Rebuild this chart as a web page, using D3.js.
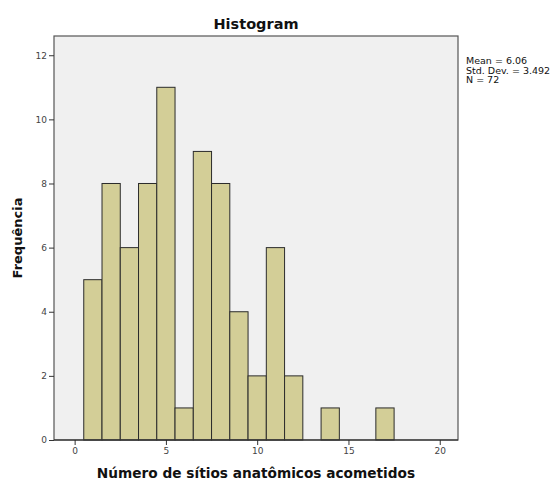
<!DOCTYPE html>
<html>
<head>
<meta charset="utf-8">
<script src="https://cdn.jsdelivr.net/npm/d3@7"></script>
<style>
  body { margin: 0; background: #fff; }
  text { font-family: "DejaVu Sans", sans-serif; }
</style>
</head>
<body>
<svg id="chart"></svg>
<script>
// bin centres (integer values) and their counts
const binCenters = [1, 2, 3, 4, 5, 6, 7, 8, 9, 10, 11, 12, 13, 14, 15, 16, 17];
const binCounts  = [5, 8, 6, 8, 11, 1, 9, 8, 4, 2, 6, 2, 0, 1, 0, 0, 1];
const xTicks = [0, 5, 10, 15, 20];
const yTicks = [0, 2, 4, 6, 8, 10, 12];
const statsLines = ["Mean = 6.06", "Std. Dev. = 3.492", "N = 72"];

const width = 560, height = 483;
const margin = { left: 54, right: 102, top: 36, bottom: 43 };

const svg = d3.select("#chart").attr("width", width).attr("height", height);

const x = d3.scaleLinear().domain([-1.13, 21.0]).range([margin.left, width - margin.right]);
const y = d3.scaleLinear().domain([0, 12.6]).range([height - margin.bottom, margin.top]);

// plot background
svg.append("rect")
    .attr("x", margin.left)
    .attr("y", margin.top)
    .attr("width", width - margin.left - margin.right)
    .attr("height", height - margin.top - margin.bottom)
    .attr("fill", "#f0f0f0");

// bars
svg.append("g").selectAll("rect")
    .data(binCenters.map((c, i) => ({ c: c, n: binCounts[i] })).filter(d => d.n > 0))
    .enter().append("rect")
    .attr("x", d => x(d.c - 0.5))
    .attr("y", d => y(d.n))
    .attr("width", d => x(d.c + 0.5) - x(d.c - 0.5))
    .attr("height", d => y(0) - y(d.n))
    .attr("fill", "#d3ce97")
    .attr("stroke", "#2b2b2b")
    .attr("stroke-width", 1);

// frame
svg.append("rect")
    .attr("x", margin.left)
    .attr("y", margin.top)
    .attr("width", width - margin.left - margin.right)
    .attr("height", height - margin.top - margin.bottom)
    .attr("fill", "none")
    .attr("stroke", "#555")
    .attr("stroke-width", 1.2);

// axes
const xAxis = svg.append("g")
    .attr("transform", "translate(0," + y(0) + ")")
    .call(d3.axisBottom(x).tickValues(xTicks).tickSize(5).tickPadding(3));
const yAxis = svg.append("g")
    .attr("transform", "translate(" + margin.left + ",0)")
    .call(d3.axisLeft(y).tickValues(yTicks).tickSize(5).tickPadding(2));

[xAxis, yAxis].forEach(a => {
    a.select(".domain").remove();
    a.selectAll("line").attr("stroke", "#333");
    a.selectAll("text").attr("fill", "#444").style("font-size", "9px");
});
svg.append("line")
    .attr("x1", margin.left).attr("x2", width - margin.right)
    .attr("y1", y(0)).attr("y2", y(0))
    .attr("stroke", "#222").attr("stroke-width", 1.2);

// title
svg.append("text")
    .attr("x", (margin.left + width - margin.right) / 2)
    .attr("y", 29)
    .attr("text-anchor", "middle")
    .style("font-size", "14.5px")
    .style("font-weight", "bold")
    .attr("fill", "#111")
    .text("Histogram");

// axis titles
svg.append("text")
    .attr("x", (margin.left + width - margin.right) / 2)
    .attr("y", 478)
    .attr("text-anchor", "middle")
    .style("font-size", "13.7px")
    .style("font-weight", "bold")
    .attr("fill", "#111")
    .text("Número de sítios anatômicos acometidos");

svg.append("text")
    .attr("transform", "translate(22," + ((margin.top + height - margin.bottom) / 2) + ") rotate(-90)")
    .attr("text-anchor", "middle")
    .style("font-size", "13px")
    .style("font-weight", "bold")
    .attr("fill", "#111")
    .text("Frequência");

// stats box text
svg.append("g").selectAll("text")
    .data(statsLines)
    .enter().append("text")
    .attr("x", 466)
    .attr("y", (d, i) => 64 + i * 9.5)
    .style("font-size", "9.5px")
    .attr("fill", "#111")
    .text(d => d);
</script>
</body>
</html>
